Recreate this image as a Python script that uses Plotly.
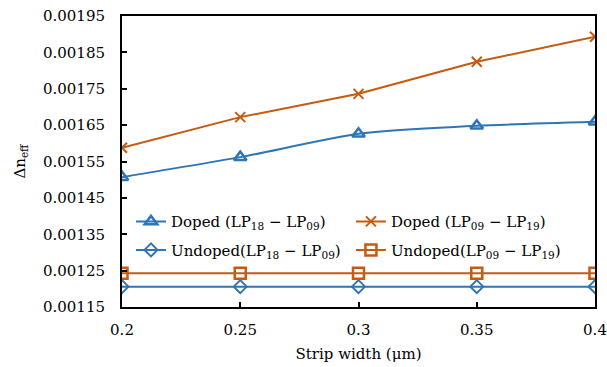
import plotly.graph_objects as go

strip_width = [0.2, 0.25, 0.3, 0.35, 0.4]
doped_18_09 = [0.001507, 0.001562, 0.001626, 0.001648, 0.001659]
doped_09_19 = [0.001588, 0.001672, 0.001736, 0.001824, 0.001893]
undoped_18_09 = [0.001206, 0.001206, 0.001206, 0.001206, 0.001206]
undoped_09_19 = [0.001243, 0.001243, 0.001243, 0.001243, 0.001243]
y_ticks = [0.00115, 0.00125, 0.00135, 0.00145, 0.00155, 0.00165, 0.00175, 0.00185, 0.00195]
x_ticks = [0.2, 0.25, 0.3, 0.35, 0.4]
x_tick_labels = ["0.2", "0.25", "0.3", "0.35", "0.4"]

BLUE = "#2E75B6"
ORANGE = "#C55A11"
FONT = "DejaVu Serif"
FS = 15

fig = go.Figure()
fig.add_trace(go.Scatter(
    x=strip_width, y=doped_18_09, mode="lines+markers",
    name="Doped (LP<sub>18</sub> − LP<sub>09</sub>)", legend="legend", legendgroup="a",
    line=dict(color=BLUE, width=2, shape="spline", smoothing=0.6),
    marker=dict(symbol="triangle-up-open", size=11, color=BLUE, line=dict(width=2.5)),
))
fig.add_trace(go.Scatter(
    x=strip_width, y=doped_09_19, mode="lines+markers",
    name="Doped (LP<sub>09</sub> − LP<sub>19</sub>)", legend="legend2", legendgroup="c",
    line=dict(color=ORANGE, width=2),
    marker=dict(symbol="x-thin-open", size=10, color=ORANGE, line=dict(width=2, color=ORANGE)),
))
fig.add_trace(go.Scatter(
    x=strip_width, y=undoped_18_09, mode="lines+markers",
    name="Undoped(LP<sub>18</sub> − LP<sub>09</sub>)", legend="legend", legendgroup="b",
    line=dict(color=BLUE, width=2),
    marker=dict(symbol="diamond-open", size=10, color=BLUE, line=dict(width=2)),
))
fig.add_trace(go.Scatter(
    x=strip_width, y=undoped_09_19, mode="lines+markers",
    name="Undoped(LP<sub>09</sub> − LP<sub>19</sub>)", legend="legend2", legendgroup="d",
    line=dict(color=ORANGE, width=2),
    marker=dict(symbol="square-open", size=11, color=ORANGE, line=dict(width=2.5)),
))

leg_common = dict(
    orientation="v", yanchor="top", xanchor="left",
    font=dict(family=FONT, size=FS, color="black"), bgcolor="rgba(0,0,0,0)",
    tracegroupgap=6, itemwidth=30,
)

fig.update_layout(
    width=607, height=367,
    margin=dict(l=122, r=12, t=16, b=60, autoexpand=False),
    paper_bgcolor="white", plot_bgcolor="white",
    font=dict(family=FONT, size=FS, color="black"),
    showlegend=True,
    legend=dict(x=0.019, y=0.35, **leg_common),
    legend2=dict(x=0.484, y=0.35, **leg_common),
    xaxis=dict(
        range=[0.2, 0.4], tickvals=x_ticks, ticktext=x_tick_labels,
        automargin=False, ticklabeloverflow="allow",
        showgrid=False, zeroline=False, showline=True, linecolor="black", linewidth=2,
        mirror=True, ticks="inside", ticklen=5, tickwidth=1.5, tickcolor="black",
        ticklabelstandoff=8,
        title=dict(text="Strip width (μm)", standoff=10, font=dict(family=FONT, size=FS)),
        tickfont=dict(family=FONT, size=FS),
    ),
    yaxis=dict(
        range=[0.00115, 0.00195], tickvals=y_ticks, tickformat=".5f",
        automargin=False,
        showgrid=False, zeroline=False, showline=True, linecolor="black", linewidth=2,
        mirror=True, ticks="inside", ticklen=5, tickwidth=1.5, tickcolor="black",
        ticklabelstandoff=12,
        title=dict(text="Δn<sub>eff</sub>", standoff=14, font=dict(family=FONT, size=FS)),
        tickfont=dict(family=FONT, size=FS),
    ),
)

fig.write_html(
    "out.html",
    config={"displayModeBar": False},
    post_script="document.body.style.margin='0';document.body.style.overflow='hidden';",
)
